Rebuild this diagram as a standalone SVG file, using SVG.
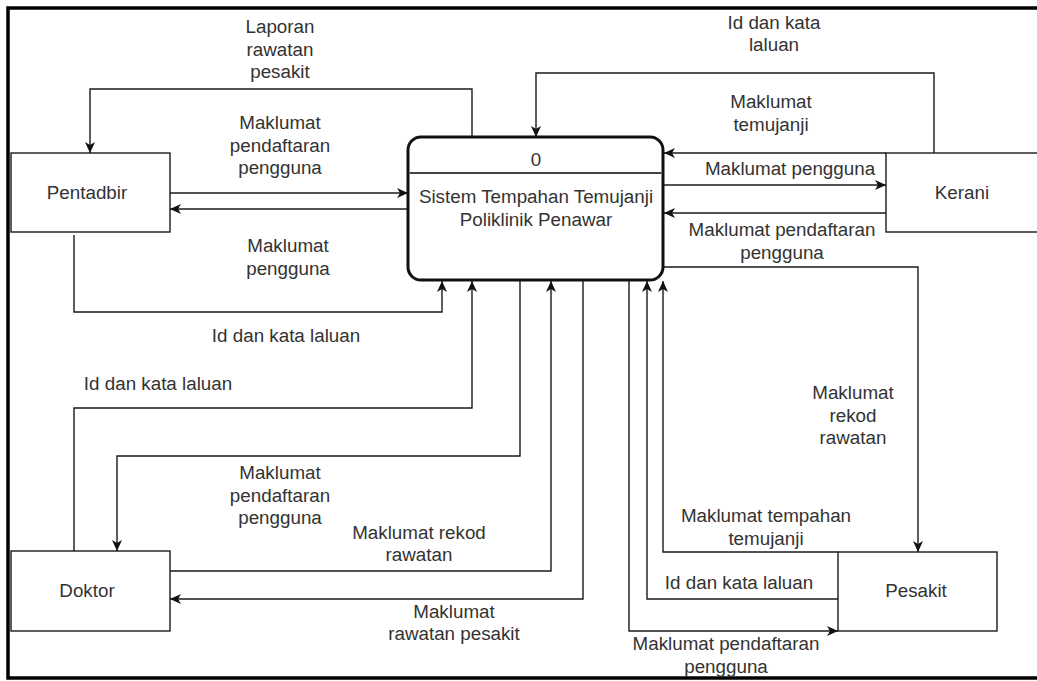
<svg xmlns="http://www.w3.org/2000/svg" width="1037" height="681" viewBox="0 0 1037 681">
<defs>
<marker id="arr" markerUnits="userSpaceOnUse" markerWidth="12" markerHeight="10" refX="11" refY="5" orient="auto" overflow="visible">
<path d="M0,0 L11,5 L0,10 L3,5 Z" fill="#111"/>
</marker>
<style>
text{font-family:"Liberation Sans",Arial,sans-serif;font-size:18.8px;fill:#333;text-anchor:middle}
.box{fill:#fff;stroke:#1a1a1a;stroke-width:1.4}
.proc{fill:#fff;stroke:#111;stroke-width:3}
.c{fill:none;stroke:#1a1a1a;stroke-width:1.4;marker-end:url(#arr)}
.n{fill:none;stroke:#1a1a1a;stroke-width:1.4}
</style>
</defs>
<rect x="0" y="0" width="1037" height="681" fill="#fff"/>
<rect x="8" y="8" width="1040" height="670" fill="none" stroke="#000" stroke-width="3.5"/>

<g id="connectors">
<path class="c" d="M472,137 V89 H90 V153"/>
<path class="c" d="M170,193 H408"/>
<path class="c" d="M408,209 H170"/>
<path class="c" d="M74,235 V312 H442 V281"/>
<path class="c" d="M74,551 V408 H472 V281"/>
<path class="c" d="M520,281 V456 H117 V551"/>
<path class="c" d="M170,571 H551 V281"/>
<path class="c" d="M583,281 V599 H170"/>
<path class="c" d="M838,552 H663 V281"/>
<path class="c" d="M838,599 H647 V281"/>
<path class="c" d="M629,281 V631 H838"/>
<path class="c" d="M664,267 H918 V552"/>
<path class="c" d="M934,153 V73 H536 V137"/>
<path class="c" d="M886,153 H664"/>
<path class="c" d="M664,185 H886"/>
<path class="c" d="M886,213 H664"/>
</g>

<g id="labels">
<text x="280" y="33">Laporan</text>
<text x="280" y="55.5">rawatan</text>
<text x="280" y="78">pesakit</text>
<text x="280" y="129">Maklumat</text>
<text x="280" y="151.5">pendaftaran</text>
<text x="280" y="174">pengguna</text>
<text x="288" y="252">Maklumat</text>
<text x="288" y="274.5">pengguna</text>
<text x="286" y="342">Id dan kata laluan</text>
<text x="158" y="390">Id dan kata laluan</text>
<text x="280" y="479">Maklumat</text>
<text x="280" y="501.5">pendaftaran</text>
<text x="280" y="524">pengguna</text>
<text x="419" y="538.5">Maklumat rekod</text>
<text x="419" y="561">rawatan</text>
<text x="454" y="617.5">Maklumat</text>
<text x="454" y="640">rawatan pesakit</text>
<text x="766" y="522">Maklumat tempahan</text>
<text x="766" y="544.5">temujanji</text>
<text x="739" y="589">Id dan kata laluan</text>
<text x="726" y="650">Maklumat pendaftaran</text>
<text x="726" y="672.5">pengguna</text>
<text x="853" y="399">Maklumat</text>
<text x="853" y="421.5">rekod</text>
<text x="853" y="444">rawatan</text>
<text x="774" y="28.5">Id dan kata</text>
<text x="774" y="51">laluan</text>
<text x="771" y="108">Maklumat</text>
<text x="771" y="130.5">temujanji</text>
<text x="790" y="175">Maklumat pengguna</text>
<text x="782" y="236">Maklumat pendaftaran</text>
<text x="782" y="258.5">pengguna</text>
</g>

<g id="process">
<rect class="proc" x="408" y="137" width="255" height="143" rx="13" ry="13"/>
<line x1="409.5" y1="173" x2="661.5" y2="173" stroke="#444" stroke-width="2"/>
<text x="536" y="166">0</text>
<text x="536" y="203">Sistem Tempahan Temujanji</text>
<text x="536" y="225.5">Poliklinik Penawar</text>
</g>

<g id="pentadbir">
<rect class="box" x="11" y="153" width="159" height="79"/>
<text x="87" y="199">Pentadbir</text>
</g>

<g id="kerani">
<rect class="box" x="886" y="153" width="160" height="79"/>
<text x="962" y="199">Kerani</text>
</g>

<g id="doktor">
<rect class="box" x="11" y="551" width="159" height="80"/>
<text x="87" y="597">Doktor</text>
</g>

<g id="pesakit">
<rect class="box" x="838" y="552" width="159" height="79"/>
<text x="916" y="597">Pesakit</text>
</g>
</svg>
